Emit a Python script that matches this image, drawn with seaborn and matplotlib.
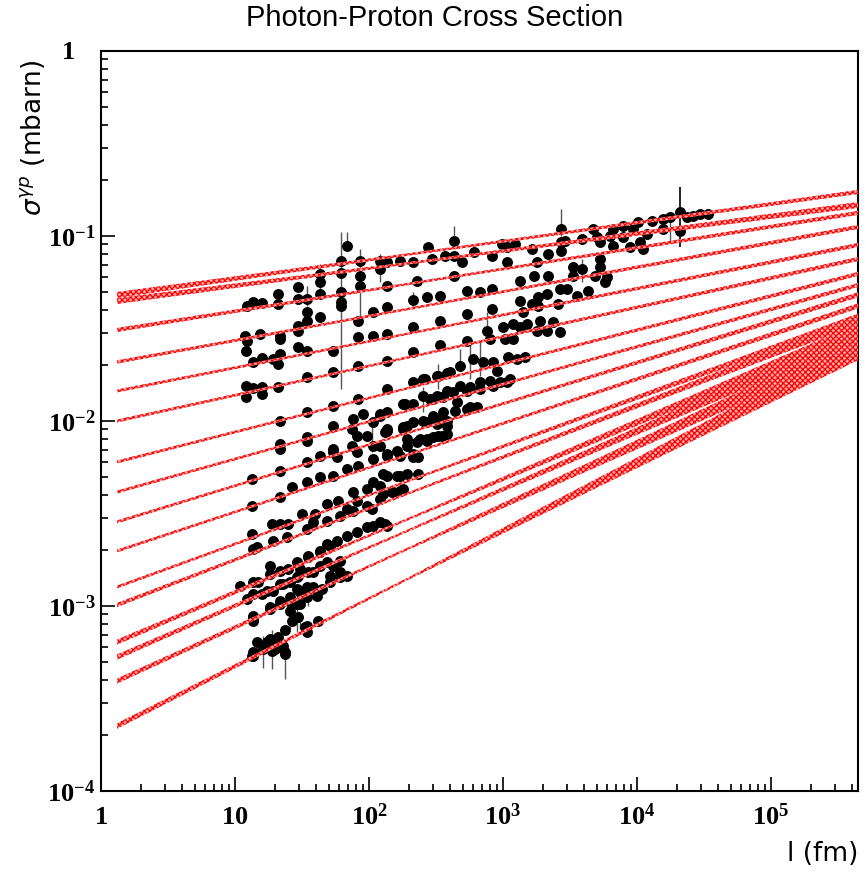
import numpy as np
import pandas as pd
import matplotlib
matplotlib.use("Agg")
import matplotlib.pyplot as plt
import seaborn as sns
from matplotlib.ticker import FixedLocator, LogLocator, NullFormatter

# power-law fits sigma = norm * l**slope, one per Q2 bin
fit_norm = [0.0467, 0.0434, 0.0301, 0.0201, 0.01397, 0.00957, 0.00571, 0.00391,
            0.00268, 0.001857, 0.001178, 0.000938, 0.000587, 0.000486, 0.000359, 0.000203]
fit_slope = [0.1007, 0.0938, 0.1144, 0.1320, 0.1427, 0.1584, 0.1838, 0.2023,
             0.2219, 0.2395, 0.2639, 0.2776, 0.3060, 0.3148, 0.3294, 0.3666]
# fit uncertainty (half width in decades) at small l, near the data, at large l
err_left = [0.016, 0.016, 0.011, 0.009, 0.008, 0.008, 0.008, 0.008,
            0.008, 0.008, 0.008, 0.011, 0.014, 0.014, 0.014, 0.015]
err_mid = 0.0065
err_right = [0.011, 0.016, 0.011, 0.011, 0.011, 0.011, 0.011, 0.011,
             0.014, 0.014, 0.019, 0.022, 0.030, 0.034, 0.044, 0.050]
fit_lmin = 1.32

# measured points: l (fm), sigma (mbarn)
l_fm = [
    68.5, 61.8, 85.7, 121, 136, 170, 213, 275, 295, 369, 431, 431, 494, 608, 828, 984,
    1072, 1230, 1645, 2166, 2710, 2710, 2710, 2902, 3890, 5027, 6290, 7870, 9340, 11880,
    15630, 20940, 10520, 8870, 11090, 6620, 5296, 4694, 6620, 7870, 10170, 12940, 15630,
    17620, 20940, 23610, 26180, 29510, 33880,
    43.1, 43.1, 61.8, 85.7, 85.7, 121, 136, 228, 431, 1072, 1794, 3326, 3890, 5296, 5296,
    4860, 5970, 5770, 3326, 2166, 1703, 1340,
    20.9, 29.5, 29.5, 34.5, 43.1, 61.8, 61.8, 61.8, 20.9, 12.3, 13.6, 15.9, 34.5, 34.5,
    43.1, 29.5, 29.5, 82.8, 107, 136, 213, 271, 339, 539, 673, 828, 1340, 1410, 1645,
    1824, 2129, 2661, 3005, 3565, 4306, 1824, 2570, 828, 539,
    11.9, 12.3, 15.4, 21.7, 21.7, 29.5, 34.5, 53.9, 82.8, 107, 136, 213, 339, 760, 800,
    1000, 1188, 1340, 1510, 1888, 2360, 2661, 2129, 1794, 1035, 1188, 539,
    12.1, 13.6, 15.9, 19.2, 21.7, 20.9, 34.5, 53.9, 82.8, 136, 213, 339, 478, 597, 709,
    841, 1089, 1272, 1460, 902, 402, 327, 262,
    12.1, 12.1, 13.6, 15.9, 15.9, 20.9, 21.7, 34.5, 53.9, 82.8, 136, 213, 253, 322, 382,
    322, 382, 478, 567, 673, 800, 950, 1128, 253, 186, 213, 285, 339, 424, 539, 673, 841,
    1072, 454, 567,
    21.7, 34.5, 53.9, 76.0, 90.2, 121, 136, 179, 300, 357, 81.4, 96.6, 136, 179, 213, 271,
    339, 121, 179, 253, 300, 357, 438, 539, 640, 322, 382, 271, 327, 382,
    74.7, 107, 136, 192, 382, 34.5, 21.7, 53.9, 74.7, 81.4, 107, 132, 192, 240, 300, 121,
    136, 162, 192, 228, 271, 351, 232, 213,
    21.7, 34.5, 43.1, 53.9, 57.7, 68.5, 82.8, 107, 136, 170, 213, 13.4, 21.7, 26.6, 34.5,
    43.1, 53.9, 76.0, 96.6, 107, 136, 170, 192, 232, 127, 162, 170, 151, 127, 121,
    13.4, 18.9, 21.7, 24.9, 31.6, 39.5, 48.6, 58.7, 68.5, 81.4, 105, 121, 149, 179, 34.5,
    38.2, 48.6, 60.7, 76.0, 96.6, 121, 136,
    13.4, 13.6, 19.2, 24.4, 35.1, 43.1, 48.6, 57.7, 68.5, 81.4, 96.6, 107, 132, 14.6, 51.2,
    18.2, 18.2, 21.7, 24.9, 29.5, 30.6, 38.2, 43.1, 48.6, 53.9, 60.7, 68.5, 51.2, 29.0,
    35.1, 43.1, 60.7, 51.2, 60.7,
    10.9, 13.6, 12.3, 15.9, 17.3, 21.7, 25.7, 30.6, 38.2, 44.6, 40.9, 14.8, 19.2, 22.8,
    29.0, 35.1, 13.6, 18.2, 21.7, 25.7, 29.0, 31.6, 34.5,
    13.6, 13.6, 18.2, 21.7, 25.7, 30.6, 26.6, 29.5, 34.5, 41.6, 25.7, 29.0, 34.5, 33.3,
    34.5, 13.6,
    13.6, 13.6, 16.7, 18.9, 20.9, 23.6, 23.6, 19.9, 14.6, 17.3, 18.2, 22.8, 23.6, 13.4,
    16.2, 18.9, 20.6,
]
sigma_mb = [
    0.0883, 0.0733, 0.0733, 0.0733, 0.0723, 0.0733, 0.0723, 0.0872, 0.0751, 0.0780, 0.0940,
    0.0780, 0.0723, 0.0820, 0.0780, 0.0905, 0.0872, 0.0905, 0.0851, 0.0800, 0.0830, 0.109,
    0.0928, 0.0940, 0.0964, 0.0988, 0.100, 0.0988, 0.109, 0.1025, 0.109, 0.1064, 0.0928,
    0.0872, 0.0851, 0.0883, 0.0928, 0.109, 0.109, 0.1133, 0.119, 0.1205, 0.1236, 0.1267,
    0.135, 0.1267, 0.128, 0.1315, 0.1315,
    0.0623, 0.0564, 0.0631, 0.0608, 0.0537, 0.0663, 0.0537, 0.0571, 0.0608, 0.0723, 0.0723,
    0.0680, 0.0663, 0.0751, 0.0680, 0.0608, 0.0600, 0.0564, 0.0608, 0.0608, 0.0608, 0.0571,
    0.0486, 0.0530, 0.0456, 0.0456, 0.0486, 0.0498, 0.0440, 0.0418, 0.0429, 0.0418, 0.0440,
    0.0434, 0.0388, 0.0347, 0.0365, 0.0326, 0.0306, 0.0347, 0.0388, 0.0413, 0.0451, 0.0468,
    0.0474, 0.0504, 0.0498, 0.0517, 0.0445, 0.0388, 0.0429, 0.0468, 0.0486, 0.0517, 0.0517,
    0.0474, 0.0504, 0.0418, 0.0429, 0.0403, 0.0379,
    0.0288, 0.0270, 0.0295, 0.0288, 0.0277, 0.0251, 0.0239, 0.0239, 0.0284, 0.0288, 0.0295,
    0.0322, 0.0347, 0.0306, 0.0277, 0.0322, 0.0334, 0.0322, 0.0334, 0.0347, 0.0343, 0.0303,
    0.0306, 0.0306, 0.0277, 0.0277, 0.0270,
    0.0239, 0.0208, 0.0219, 0.0216, 0.0230, 0.0203, 0.0173, 0.0184, 0.0198, 0.0211, 0.0236,
    0.0257, 0.0198, 0.0216, 0.0208, 0.0208, 0.0222, 0.0216, 0.0222, 0.0186, 0.0184, 0.0175,
    0.0169,
    0.0155, 0.0135, 0.0151, 0.0153, 0.0140, 0.0153, 0.0100, 0.0112, 0.0121, 0.0132, 0.0149,
    0.0163, 0.0169, 0.0175, 0.0182, 0.0137, 0.0145, 0.0155, 0.0153, 0.0163, 0.0164, 0.0163,
    0.0169, 0.0137, 0.0124, 0.0124, 0.0132, 0.0135, 0.0144, 0.0145, 0.0149, 0.0155, 0.0163,
    0.0127, 0.0119,
    0.00751, 0.00820, 0.00940, 0.01025, 0.0109, 0.0106, 0.0112, 0.0124, 0.0132, 0.0135,
    0.00830, 0.00830, 0.00906, 0.00929, 0.00988, 0.00988, 0.01025, 0.0109, 0.00906, 0.0100,
    0.0106, 0.0112, 0.0113, 0.0116, 0.0119, 0.00964, 0.00940, 0.00800, 0.00830, 0.00851,
    0.00906, 0.00988, 0.00883, 0.00940, 0.0100, 0.00780, 0.00706, 0.00706, 0.00733, 0.00680,
    0.00733, 0.00872, 0.00800, 0.00800, 0.00820, 0.00733, 0.00663, 0.00689, 0.00733,
    0.00769, 0.00780, 0.00830, 0.00639, 0.00663,
    0.00537, 0.00600, 0.00647, 0.00680, 0.00639, 0.00550, 0.00571, 0.00623, 0.00647,
    0.00647, 0.00639, 0.00486, 0.00388, 0.00440, 0.00468, 0.00498, 0.00504, 0.00413,
    0.00429, 0.00468, 0.00504, 0.00504, 0.00517, 0.00517, 0.00517, 0.00504, 0.00418,
    0.00413, 0.00403, 0.00445,
    0.00347, 0.00277, 0.00277, 0.00277, 0.00314, 0.00314, 0.00356, 0.00370, 0.00334,
    0.00370, 0.00334, 0.00379, 0.00413, 0.00429, 0.00261, 0.00284, 0.00288, 0.00306,
    0.00326, 0.00347, 0.00284, 0.00270,
    0.00245, 0.00203, 0.00225, 0.00236, 0.00186, 0.00198, 0.00216, 0.00225, 0.00239,
    0.00251, 0.00267, 0.00270, 0.00277, 0.00208, 0.00211,
    0.00164, 0.00149, 0.00155, 0.00158, 0.00145, 0.00158, 0.00153, 0.00164, 0.00173,
    0.00164, 0.00153, 0.00145, 0.00145, 0.00173, 0.00184, 0.00196, 0.00175, 0.00135, 0.00144,
    0.00128, 0.00135, 0.00109, 0.00116, 0.00121, 0.00132, 0.00135, 0.00119, 0.00127,
    0.00124, 0.00113, 0.00135, 0.00121, 0.00132, 0.00144, 0.00153, 0.00116, 0.000988,
    0.00106, 0.00112, 0.00124, 0.00119, 0.00127,
    0.000883, 0.000851, 0.000964, 0.00103, 0.00105, 0.00103, 0.000830, 0.000872, 0.000780,
    0.000830, 0.000940, 0.00103, 0.00112, 0.000769, 0.000723, 0.000830,
    0.000564, 0.000537, 0.000608, 0.000647, 0.000680, 0.000741, 0.000564, 0.000586,
    0.000639, 0.000639, 0.000663, 0.000608, 0.000550, 0.000537, 0.000586, 0.000571, 0.000608,
]

# visible error bars: l, lower and upper sigma
err_l = [61.8, 85.7, 68.5, 43.1, 121, 2710, 431, 34.5, 23.6, 18.9, 16.2, 14.6, 29.0, 25.7,
         35.1, 105, 760, 478, 567, 673, 327, 253, 3890, 17620, 213, 107, 76.0, 30.6]
err_lo = [0.0149, 0.0343, 0.0851, 0.0486, 0.0564, 0.100, 0.0851, 0.0418, 0.000403, 0.000456,
          0.000465, 0.000564, 0.000723, 0.000751, 0.000995, 0.00680, 0.0314, 0.0198, 0.0169,
          0.0175, 0.0149, 0.0112, 0.0564, 0.0928, 0.0403, 0.0371, 0.00830, 0.000751]
err_hi = [0.105, 0.0851, 0.105, 0.0706, 0.0800, 0.140, 0.1133, 0.0537, 0.000550, 0.000741,
          0.000689, 0.000663, 0.000995, 0.000964, 0.00119, 0.01025, 0.0388, 0.0245, 0.0267,
          0.0267, 0.0203, 0.0153, 0.0751, 0.128, 0.0498, 0.0413, 0.0100, 0.000930]
big_err_l = [20940]
big_err_lo = [0.0872]
big_err_hi = [0.184]

sns.set_style("white")
plt.rcParams["text.color"] = "black"
plt.rcParams["mathtext.fontset"] = "custom"
plt.rcParams["mathtext.bf"] = "Liberation Serif:bold"
plt.rcParams["mathtext.rm"] = "Liberation Serif:bold"
plt.rcParams["hatch.linewidth"] = 0.9

fig = plt.figure(figsize=(8.66, 8.79), dpi=100)
ax = fig.add_axes([101 / 866, 87 / 879, 757 / 866, 740 / 879])
ax.set_xscale("log")
ax.set_yscale("log")
xmax = 10 ** (757 / 134)
ax.set_xlim(1, xmax)
ax.set_ylim(1e-4, 1)

# data first, fits drawn on top
ax.vlines(err_l, err_lo, err_hi, color="#555555", lw=1.0, zorder=2)
ax.vlines(big_err_l, big_err_lo, big_err_hi, color="black", lw=1.2, zorder=2)
df = pd.DataFrame({"l": l_fm, "sigma": sigma_mb})
sns.scatterplot(data=df, x="l", y="sigma", ax=ax, color="black", s=62,
                linewidth=0, zorder=3, legend=False)

logl = np.linspace(np.log10(fit_lmin), np.log10(xmax), 300)
ll = 10 ** logl
for norm, slope, eL, eR in zip(fit_norm, fit_slope, err_left, err_right):
    hw = np.interp(logl, [logl[0], 2.3, logl[-1]], [eL, err_mid, eR])
    centre = norm * ll ** slope
    ax.fill_between(ll, centre * 10 ** (-hw), centre * 10 ** hw,
                    facecolor="#ffaaaa", edgecolor="#ff0000", hatch="xxxxxx",
                    linewidth=0, zorder=4)

# axes in ROOT style
ax.xaxis.set_major_locator(FixedLocator([1, 10, 1e2, 1e3, 1e4, 1e5]))
ax.set_xticklabels([r"$\mathbf{1}$", r"$\mathbf{10}$", r"$\mathbf{10^{2}}$",
                    r"$\mathbf{10^{3}}$", r"$\mathbf{10^{4}}$", r"$\mathbf{10^{5}}$"])
ax.yaxis.set_major_locator(FixedLocator([1e-4, 1e-3, 1e-2, 1e-1, 1]))
ax.set_yticklabels([r"$\mathbf{10^{-4}}$", r"$\mathbf{10^{-3}}$", r"$\mathbf{10^{-2}}$",
                    r"$\mathbf{10^{-1}}$", ""])
ax.text(-0.035, 1.0, r"$\mathbf{1}$", transform=ax.transAxes, ha="right", va="center",
        fontsize=19, color="black")
for axis in (ax.xaxis, ax.yaxis):
    axis.set_minor_locator(LogLocator(base=10, subs=np.arange(2, 10), numticks=20))
    axis.set_minor_formatter(NullFormatter())
ax.tick_params(which="both", direction="in", bottom=True, left=True, top=False,
               right=False, width=1.2, colors="black", labelsize=19)
ax.tick_params(which="major", length=10)
ax.tick_params(which="minor", length=5)
ax.tick_params(axis="x", which="major", pad=9)
ax.tick_params(axis="y", which="major", pad=4)
for sp in ax.spines.values():
    sp.set_linewidth(1.5)
    sp.set_color("black")

ax.set_xlabel("l (fm)", fontsize=19, family="DejaVu Sans", loc="right", color="black")
ax.xaxis.set_label_coords(1.0, -0.066)
ax.set_ylabel(r"$\sigma^{\gamma p}$ (mbarn)", fontsize=19, family="DejaVu Sans",
              loc="top", color="black")
ax.yaxis.set_label_coords(-0.071, 0.99)
fig.text(0.502, 0.979, "Photon-Proton Cross Section", ha="center", va="center",
         fontsize=21, family="Liberation Sans", color="black")

fig.savefig("out.png", dpi=100)
